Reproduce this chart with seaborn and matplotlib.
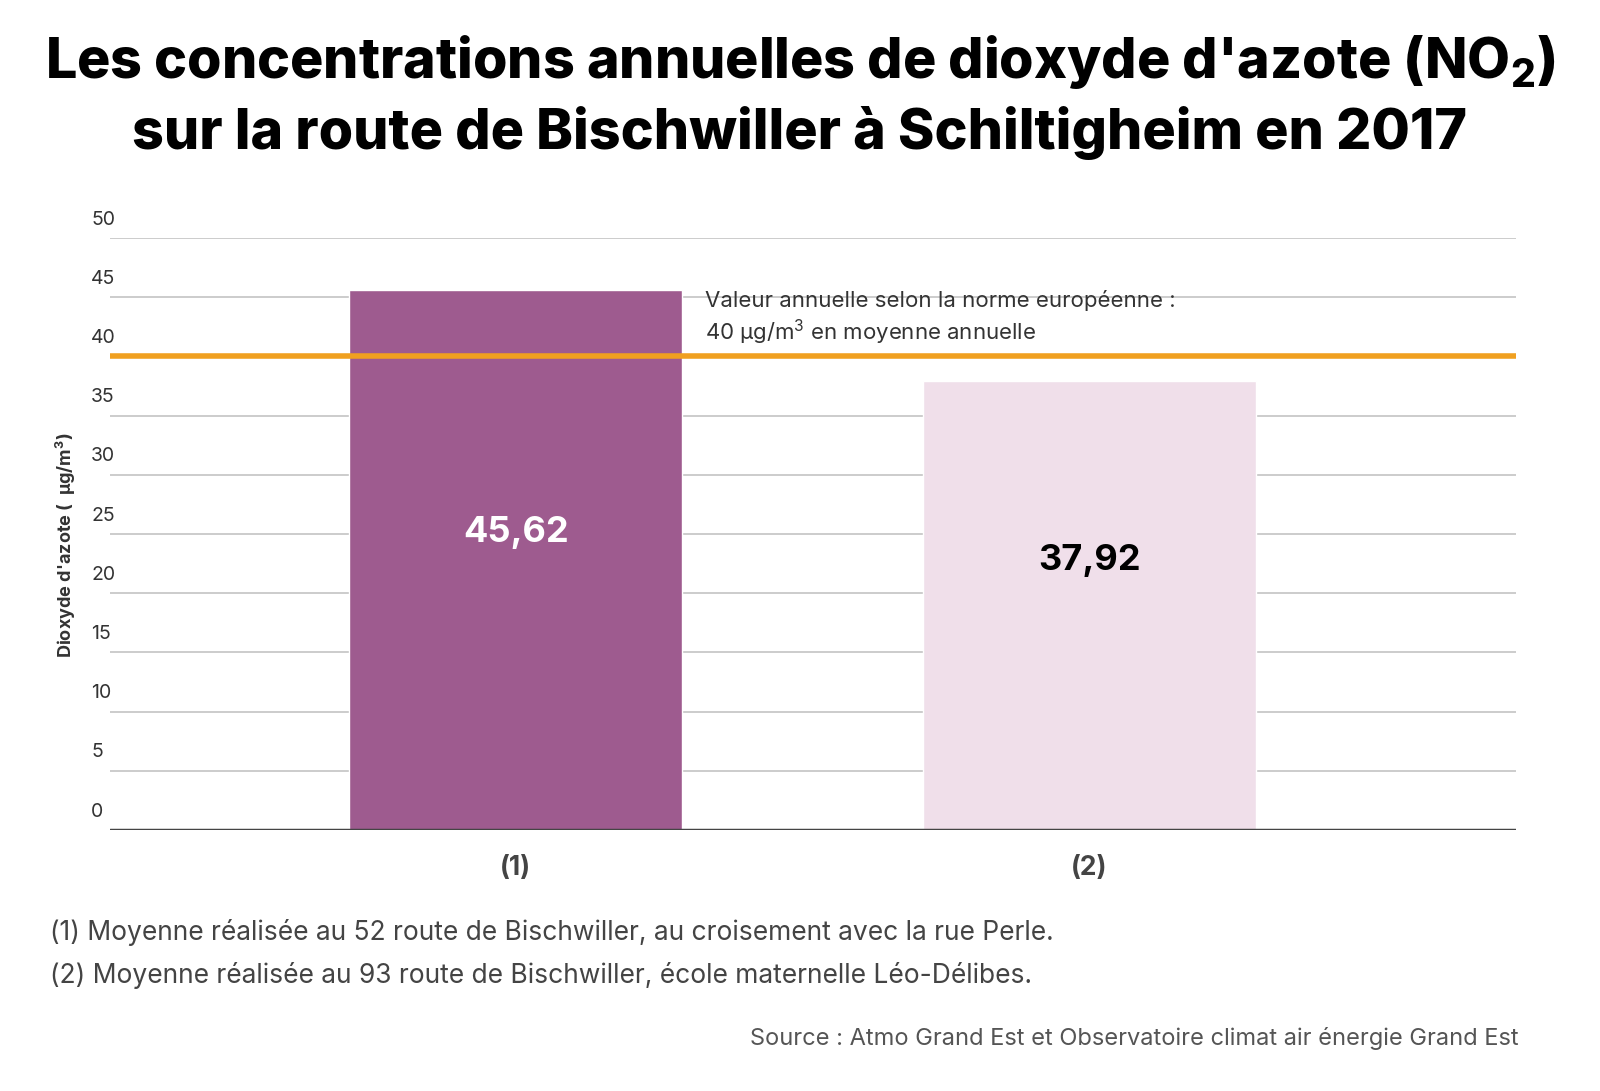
import matplotlib
matplotlib.use('Agg')
import matplotlib.pyplot as plt
import matplotlib.transforms as mtransforms
import seaborn as sns
import pandas as pd

categories = ['(1)', '(2)']
values = [45.62, 37.92]
labels = ['45,62', '37,92']
bar_colors = ['#9e5b8f', '#f0dfea']
label_colors = ['white', 'black']
norm_value = 40
yticks = list(range(0, 55, 5))

sns.set_theme(style='white')
plt.rcParams['font.family'] = ['Inter', 'DejaVu Sans']
plt.rcParams['mathtext.default'] = 'regular'

df = pd.DataFrame({'site': categories, 'no2': values})

fig = plt.figure(figsize=(16, 10.91), dpi=100)
ax = fig.add_axes([0.06875, 0.2392, 0.879, 0.5426])

for y in yticks[1:]:
    ax.axhline(y, color='#c8c8c8', lw=1.3, zorder=0)

sns.barplot(data=df, x='site', y='no2', hue='site', palette=bar_colors,
            width=0.58, saturation=1, legend=False, ax=ax, zorder=2)
ax.axhline(norm_value, color='#f0a020', lw=4, zorder=3)
ax.axhline(0, color='#444444', lw=2.5, zorder=4)

ax.set_xlim(-0.707, 1.744)
ax.set_ylim(0, 50)
sns.despine(ax=ax, left=True, bottom=True)
ax.set_yticks([])
ax.set_xlabel('')
ax.set_ylabel('')
ax.tick_params(axis='x', length=0, pad=18, labelsize=19, labelcolor='#444444')
for t in ax.get_xticklabels():
    t.set_fontweight('bold')

trans = mtransforms.blended_transform_factory(fig.transFigure, ax.transData)
for y in yticks:
    ax.text(0.057, y + 0.8, str(y), ha='left', va='bottom', fontsize=14,
            color='#333333', transform=trans, clip_on=False)

for i, (v, lab) in enumerate(zip(values, labels)):
    ax.text(i, v * 0.55 if i == 0 else v * 0.6, lab, ha='center', va='center',
            fontsize=26, fontweight='bold', color=label_colors[i])

ax.text(0.33, 40.8, 'Valeur annuelle selon la norme européenne :\n40 µg/m$^3$ en moyenne annuelle',
        fontsize=16, color='#333333', va='bottom', linespacing=1.3)

fig.text(0.041, 0.50, "Dioxyde d'azote (  µg/m$^3$)", rotation=90, ha='center', va='center',
         fontsize=13, fontweight='bold', color='#333333')

fig.text(0.5, 0.943, "Les concentrations annuelles de dioxyde d'azote (NO$_2$)",
         ha='center', va='center', fontsize=40, fontweight='heavy', color='black')
fig.text(0.5, 0.878, 'sur la route de Bischwiller à Schiltigheim en 2017',
         ha='center', va='center', fontsize=40, fontweight='heavy', color='black')

fig.text(0.031, 0.145, '(1) Moyenne réalisée au 52 route de Bischwiller, au croisement avec la rue Perle.',
         fontsize=19, color='#444444', va='center')
fig.text(0.031, 0.106, '(2) Moyenne réalisée au 93 route de Bischwiller, école maternelle Léo-Délibes.',
         fontsize=19, color='#444444', va='center')
fig.text(0.949, 0.048, 'Source : Atmo Grand Est et Observatoire climat air énergie Grand Est',
         fontsize=17, color='#555555', ha='right', va='center')

fig.savefig('out.png', dpi=100, facecolor='white')
